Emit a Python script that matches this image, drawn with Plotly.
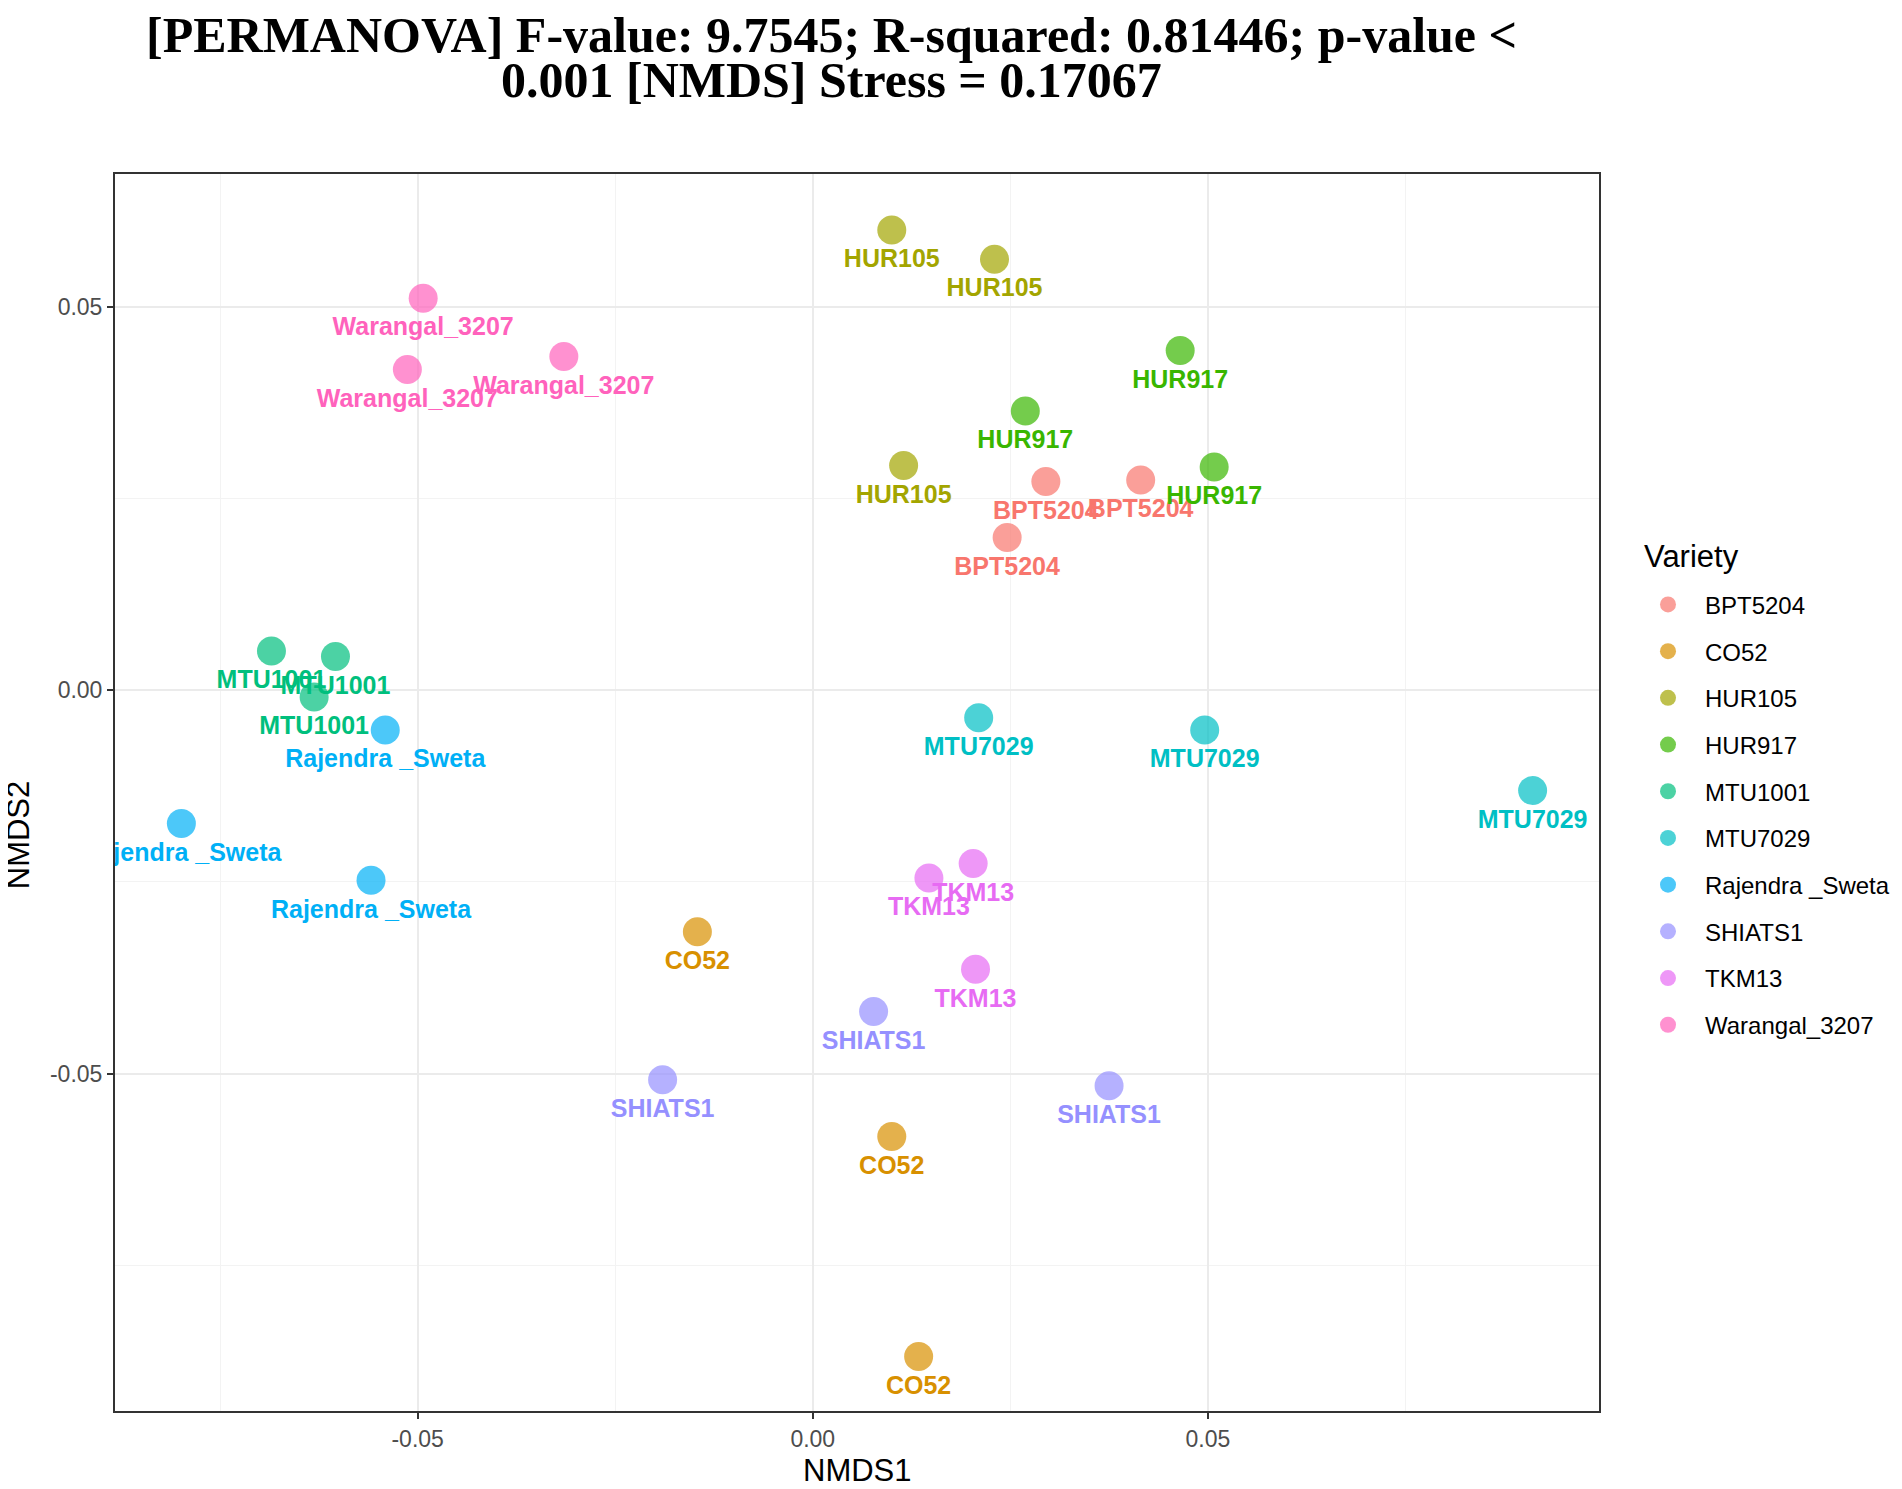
import plotly.graph_objects as go

# NMDS ordination, three samples per rice variety
varieties = ["BPT5204", "CO52", "HUR105", "HUR917", "MTU1001", "MTU7029",
             "Rajendra _Sweta", "SHIATS1", "TKM13", "Warangal_3207"]
variety_colors = ["#F8766D", "#D89000", "#A3A500", "#39B600", "#00BF7D",
                  "#00BFC4", "#00B0F6", "#9590FF", "#E76BF3", "#FF62BC"]

sample_variety = [v for v in varieties for _ in range(3)]
nmds1 = [0.0295, 0.0415, 0.0246,
         -0.0146, 0.0100, 0.0134,
         0.0100, 0.0230, 0.0115,
         0.0465, 0.0269, 0.0508,
         -0.0685, -0.0604, -0.0631,
         0.0210, 0.0496, 0.0911,
         -0.0541, -0.0799, -0.0559,
         0.0077, -0.0190, 0.0375,
         0.0147, 0.0203, 0.0206,
         -0.0493, -0.0513, -0.0315]
nmds2 = [0.0272, 0.0274, 0.0199,
         -0.0315, -0.0582, -0.0869,
         0.0600, 0.0562, 0.0293,
         0.0443, 0.0364, 0.0291,
         0.0051, 0.0044, -0.0009,
         -0.0036, -0.0052, -0.0131,
         -0.0052, -0.0174, -0.0248,
         -0.0419, -0.0508, -0.0516,
         -0.0245, -0.0226, -0.0364,
         0.0511, 0.0418, 0.0435]

tick_vals = [-0.05, 0.0, 0.05]
tick_text = ["-0.05", "0.00", "0.05"]
minor_vals = [-0.075, -0.025, 0.025, 0.075]

title_lines = ["[PERMANOVA] F-value: 9.7545; R-squared: 0.81446; p-value <",
               "0.001 [NMDS] Stress = 0.17067"]

FONT = "Liberation Sans"
# Seite hat 8px Body-Rand -> Figur um 8px kleiner, Positionen in Bildschirm-Pixeln
PAD = 8
PLOT_L, PLOT_R, PLOT_T, PLOT_B = 115, 1599, 173.5, 1411


def px_x(px):
    return (px - PLOT_L) / (PLOT_R - PLOT_L)


def px_y(py):
    return (PLOT_B - py) / (PLOT_B - PLOT_T)


fig = go.Figure()

# Punkte (mit Legende)
for name, col in zip(varieties, variety_colors):
    xs = [x for x, v in zip(nmds1, sample_variety) if v == name]
    ys = [y for y, v in zip(nmds2, sample_variety) if v == name]
    fig.add_trace(go.Scatter(
        x=xs, y=ys, mode="markers", name=name, legendgroup=name,
        marker=dict(size=29, color=col, opacity=0.7, line=dict(width=0)),
        hoverinfo="x+y+name",
    ))

# Beschriftungen unter den Punkten (unsichtbare Marker fuer den Abstand)
for name, col in zip(varieties, variety_colors):
    xs = [x for x, v in zip(nmds1, sample_variety) if v == name]
    ys = [y for y, v in zip(nmds2, sample_variety) if v == name]
    fig.add_trace(go.Scatter(
        x=xs, y=ys, mode="markers+text", text=[name] * len(xs),
        marker=dict(size=28, opacity=0),
        textposition="bottom center", showlegend=False, hoverinfo="skip",
        textfont=dict(family=FONT, size=25, color=col, weight="bold"),
        cliponaxis=True,
    ))

axis_common = dict(
    tickvals=tick_vals, ticktext=tick_text,
    showgrid=True, gridcolor="#EBEBEB", gridwidth=1.6,
    zeroline=False,
    showline=True, mirror=True, linecolor="#333333", linewidth=2,
    ticks="outside", ticklen=6, tickwidth=1.5, tickcolor="#333333",
    tickfont=dict(family=FONT, size=23, color="#4D4D4D"),
    minor=dict(tickvals=minor_vals, showgrid=True, gridcolor="#F3F3F3",
               gridwidth=1, ticks=""),
)
fig.update_xaxes(range=[-0.0883, 0.0995], **axis_common)
fig.update_yaxes(range=[-0.0940, 0.0673], **axis_common)

title_font = dict(family="Liberation Serif", size=50, color="black", weight="bold")
annotations = [
    dict(text=title_lines[0], x=px_x(831), y=px_y(34)),
    dict(text=title_lines[1], x=px_x(831), y=px_y(79)),
]
annotations = [dict(a, xref="paper", yref="paper", xanchor="center",
                    yanchor="middle", showarrow=False, font=title_font)
               for a in annotations]
annotations += [
    dict(text="NMDS1", xref="paper", yref="paper", x=0.5, y=px_y(1471),
         xanchor="center", yanchor="middle", showarrow=False,
         font=dict(family=FONT, size=31, color="black")),
    dict(text="NMDS2", xref="paper", yref="paper", x=px_x(18), y=px_y(835),
         xanchor="center", yanchor="middle", textangle=-90, showarrow=False,
         font=dict(family=FONT, size=31, color="black")),
    dict(text="Variety", xref="paper", yref="paper", x=px_x(1642), y=px_y(556),
         xanchor="left", yanchor="middle", showarrow=False,
         font=dict(family=FONT, size=31, color="black")),
]

fig.update_layout(
    width=1902 - PAD, height=1489 - PAD,
    margin=dict(l=PLOT_L - PAD, r=1902 - PLOT_R, t=PLOT_T - PAD,
                b=1489 - PLOT_B, autoexpand=False),
    paper_bgcolor="white", plot_bgcolor="white",
    font=dict(family=FONT, color="black"),
    annotations=annotations,
    showlegend=True,
    legend=dict(
        font=dict(family=FONT, size=24, color="black"),
        x=px_x(1631), xanchor="left",
        y=px_y(582), yanchor="top",
        tracegroupgap=12.5, itemsizing="trace", itemwidth=64,
        bgcolor="rgba(0,0,0,0)",
    ),
)

fig.write_html("out.html")
